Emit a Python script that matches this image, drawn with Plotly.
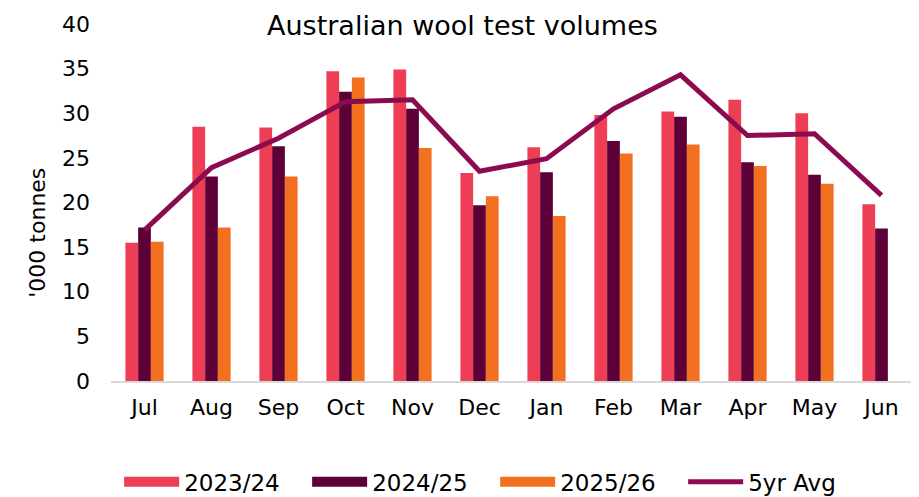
import plotly.graph_objects as go

months = ["Jul", "Aug", "Sep", "Oct", "Nov", "Dec", "Jan", "Feb", "Mar", "Apr", "May", "Jun"]
y2023_24 = [15.5, 28.5, 28.4, 34.7, 34.9, 23.3, 26.2, 29.8, 30.2, 31.5, 30.0, 19.8]
y2024_25 = [17.2, 22.9, 26.3, 32.4, 30.5, 19.7, 23.4, 26.9, 29.6, 24.5, 23.1, 17.1]
y2025_26 = [15.6, 17.2, 22.9, 34.0, 26.1, 20.7, 18.5, 25.5, 26.5, 24.1, 22.1, None]
avg5yr = [16.9, 23.9, 27.2, 31.3, 31.5, 23.5, 24.9, 30.5, 34.3, 27.5, 27.7, 20.8]

series_names = ["2023/24", "2024/25", "2025/26"]
colors = ["#EE3E55", "#5C0037", "#F37021"]
line_color = "#8C0B4F"
FONT = "DejaVu Sans"

fig = go.Figure()
for name, vals, c in zip(series_names, [y2023_24, y2024_25, y2025_26], colors):
    fig.add_trace(go.Bar(x=months, y=vals, name=name, marker_color=c,
                         marker_line_width=0, showlegend=False, legendgroup=name))
fig.add_trace(go.Scatter(x=months, y=avg5yr, name="5yr Avg", mode="lines",
                         line=dict(color=line_color, width=5), showlegend=False))

# legend entries
for name, c in zip(series_names, colors):
    fig.add_trace(go.Scatter(x=[None], y=[None], mode="lines", name=name,
                             line=dict(color=c, width=12), legendgroup=name))
fig.add_trace(go.Scatter(x=[None], y=[None], mode="lines", name="5yr Avg",
                         line=dict(color=line_color, width=5)))

# page body has an 8px margin: figure is sized to the visible area
fig.update_layout(
    width=911, height=489,
    margin=dict(l=103, r=4, t=14, b=116),
    paper_bgcolor="white", plot_bgcolor="rgba(0,0,0,0)",
    font=dict(family=FONT, size=22, color="#000000"),
    barmode="group", bargap=0.43, bargroupgap=0,
    showlegend=True,
    legend=dict(orientation="h", x=0.122, xref="container", xanchor="left",
                y=0.031, yref="container", yanchor="middle",
                font=dict(size=23, family=FONT), entrywidth=118, itemwidth=55,
                traceorder="normal"),
    annotations=[
        dict(text="Australian wool test volumes", x=0.437, xref="paper", xanchor="center",
             y=1.045, yref="paper", yanchor="top", showarrow=False,
             font=dict(size=27, family=FONT)),
        dict(text="'000 tonnes", x=-0.091, xref="paper", xanchor="center",
             y=0.415, yref="paper", yanchor="middle",
             showarrow=False, textangle=-90, font=dict(size=22, family=FONT)),
    ],
)
fig.update_xaxes(showline=True, linecolor="#D9D9D9", linewidth=2, ticks="",
                 showgrid=False, tickfont=dict(size=22), ticklabelstandoff=6)
fig.update_yaxes(range=[0, 40], dtick=5, showgrid=False, zeroline=False,
                 showline=False, ticks="", tickfont=dict(size=22), ticklabelstandoff=20)

fig.write_html("out.html")
